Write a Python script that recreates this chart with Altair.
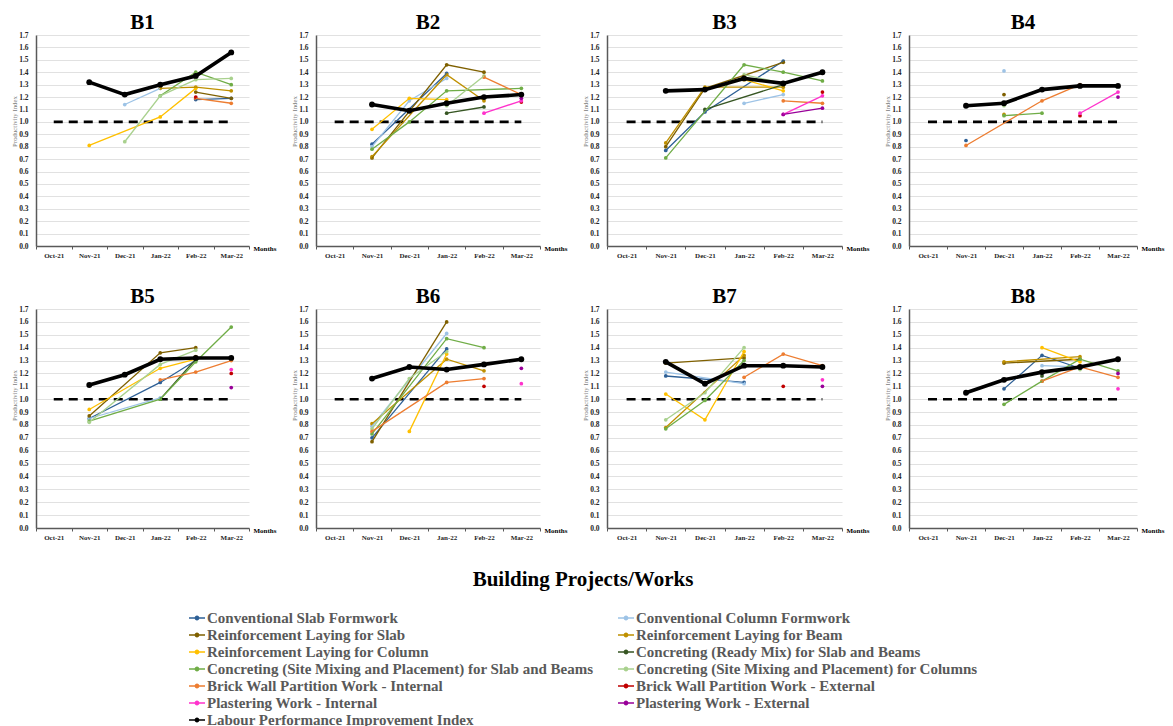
import altair as alt
import pandas as pd

SERIF = "Liberation Serif"

MONTHS = ["Oct-21", "Nov-21", "Dec-21", "Jan-22", "Feb-22", "Mar-22"]

SERIES = [
    "Conventional Slab Formwork",
    "Conventional Column Formwork",
    "Reinforcement Laying for Slab",
    "Reinforcement Laying for Beam",
    "Reinforcement Laying for Column",
    "Concreting (Ready Mix) for Slab and Beams",
    "Concreting (Site Mixing and Placement) for Slab and Beams",
    "Concreting (Site Mixing and Placement) for Columns",
    "Brick Wall Partition Work - Internal",
    "Brick Wall Partition Work - External",
    "Plastering Work - Internal",
    "Plastering Work - External",
    "Labour Performance Improvement Index",
]
COLORS = [
    "#2E6096", "#9DC3E6", "#7F6000", "#BF9000", "#FFC000", "#375623",
    "#70AD47", "#A9D18E", "#ED7D31", "#C00000", "#FF33CC", "#990099",
    "#000000",
]
LABOUR = SERIES[-1]

# the legend fills its two columns top to bottom, so list the
# entries column by column to read across in SERIES order
LEGEND_ORDER = [0, 2, 4, 6, 8, 10, 12, 1, 3, 5, 7, 9, 11]

Y_TICKS = [0.0, 0.1, 0.2, 0.3, 0.4, 0.5, 0.6, 0.7, 0.8, 0.9,
           1.0, 1.1, 1.2, 1.3, 1.4, 1.5, 1.6, 1.7]

# reference level drawn as a dashed line across the months
BASELINE_MONTHS = [0, 5]
BASELINE_VALUE = 1.0

N = None
# productivity index per month (Oct-21 .. Mar-22), keyed by position in SERIES
B1 = {
    0: [N, N, N, N, 1.18, 1.19],
    1: [N, N, 1.14, 1.27, N, N],
    2: [N, N, N, N, 1.24, 1.19],
    3: [N, N, N, 1.27, 1.28, 1.25],
    4: [N, 0.81, N, 1.04, 1.27, N],
    6: [N, N, N, 1.21, 1.40, 1.30],
    7: [N, N, 0.84, 1.21, 1.34, 1.35],
    8: [N, N, N, N, 1.19, 1.15],
    9: [N, N, N, N, 1.20, N],
    12: [N, 1.32, 1.22, 1.30, 1.37, 1.56],
}
B2 = {
    0: [N, 0.82, N, 1.39, N, N],
    1: [N, 0.80, 1.17, 1.35, N, N],
    2: [N, 0.71, N, 1.46, 1.40, N],
    3: [N, 0.72, N, 1.38, 1.17, N],
    4: [N, 0.94, 1.19, 1.18, N, N],
    5: [N, N, N, 1.07, 1.12, N],
    6: [N, 0.78, 1.00, 1.25, N, 1.27],
    7: [N, N, N, 1.13, 1.37, N],
    8: [N, N, N, N, 1.36, 1.22],
    9: [N, N, N, N, N, 1.16],
    10: [N, N, N, N, 1.07, 1.17],
    11: [N, N, N, N, N, 1.19],
    12: [N, 1.14, 1.09, 1.15, 1.20, 1.22],
}
B3 = {
    0: [N, 0.77, 1.08, N, 1.49, N],
    1: [N, N, N, 1.15, 1.22, N],
    2: [N, 0.80, 1.27, N, 1.48, N],
    3: [N, 0.83, 1.28, N, 1.28, N],
    4: [N, N, N, 1.34, 1.25, N],
    5: [N, N, 1.10, N, 1.30, N],
    6: [N, 0.71, N, 1.46, 1.40, 1.33],
    7: [N, N, N, 1.38, 1.31, N],
    8: [N, N, N, N, 1.17, 1.15],
    9: [N, N, N, N, N, 1.24],
    10: [N, N, N, N, 1.06, 1.21],
    11: [N, N, N, N, 1.06, 1.11],
    12: [N, 1.25, 1.26, 1.35, 1.31, 1.40],
}
B4 = {
    0: [N, 0.85, N, N, N, N],
    1: [N, N, 1.41, N, N, N],
    2: [N, N, 1.22, N, N, N],
    3: [N, N, 1.06, N, N, N],
    6: [N, N, 1.05, 1.07, N, N],
    7: [N, N, 1.13, N, N, N],
    8: [N, 0.81, N, 1.17, 1.30, N],
    9: [N, N, N, N, 1.05, N],
    10: [N, N, N, N, 1.07, 1.24],
    11: [N, N, N, N, N, 1.20],
    12: [N, 1.13, 1.15, 1.26, 1.29, 1.29],
}
B5 = {
    0: [N, 0.85, N, 1.13, 1.30, N],
    1: [N, 0.85, N, 1.01, N, N],
    2: [N, 0.87, N, 1.36, 1.40, N],
    3: [N, N, N, N, 1.33, N],
    4: [N, 0.92, N, 1.24, 1.31, N],
    5: [N, N, N, 1.00, 1.31, N],
    6: [N, 0.83, N, 1.00, 1.29, 1.56],
    7: [N, 0.82, N, 1.27, 1.38, N],
    8: [N, N, N, 1.15, 1.21, 1.30],
    9: [N, N, N, N, N, 1.20],
    10: [N, N, N, N, N, 1.23],
    11: [N, N, N, N, N, 1.09],
    12: [N, 1.11, 1.19, 1.31, 1.32, 1.32],
}
B6 = {
    0: [N, 0.70, N, 1.39, N, N],
    1: [N, 0.79, N, 1.51, N, N],
    2: [N, 0.67, N, 1.60, N, N],
    3: [N, 0.81, N, 1.31, 1.22, N],
    4: [N, N, 0.75, 1.35, N, N],
    6: [N, 0.73, N, 1.47, 1.40, N],
    7: [N, 0.77, 1.16, 1.37, N, N],
    8: [N, 0.75, N, 1.13, 1.16, N],
    9: [N, N, N, N, 1.10, N],
    10: [N, N, N, N, N, 1.12],
    11: [N, N, N, N, N, 1.24],
    12: [N, 1.16, 1.25, 1.23, 1.27, 1.31],
}
B7 = {
    0: [N, 1.18, N, 1.13, N, N],
    1: [N, 1.21, N, 1.12, N, N],
    2: [N, 1.28, N, 1.32, N, N],
    3: [N, 0.78, N, 1.34, N, N],
    4: [N, 1.04, 0.84, 1.37, N, N],
    6: [N, 0.77, 0.99, 1.30, N, N],
    7: [N, 0.84, 1.05, 1.40, N, N],
    8: [N, N, N, 1.17, 1.35, 1.26],
    9: [N, N, N, N, 1.10, N],
    10: [N, N, N, N, N, 1.15],
    11: [N, N, N, N, N, 1.10],
    12: [N, 1.29, 1.12, 1.26, 1.26, 1.25],
}
B8 = {
    0: [N, N, 1.08, 1.34, 1.24, N],
    1: [N, N, N, 1.26, 1.25, N],
    2: [N, N, 1.28, N, 1.31, N],
    3: [N, N, 1.29, N, 1.33, N],
    4: [N, N, N, 1.40, 1.29, N],
    5: [N, N, N, 1.18, N, N],
    6: [N, N, 0.96, 1.14, 1.31, 1.22],
    7: [N, N, N, N, 1.23, N],
    8: [N, N, N, 1.14, 1.25, 1.17],
    10: [N, N, N, N, N, 1.08],
    11: [N, N, N, N, N, 1.20],
    12: [N, 1.05, 1.15, 1.21, 1.25, 1.31],
}

PANELS = [("B1", B1), ("B2", B2), ("B3", B3), ("B4", B4),
          ("B5", B5), ("B6", B6), ("B7", B7), ("B8", B8)]
COL_WIDTHS = [213, 224, 235, 228]
ROW_HEIGHTS = [211, 219]


def frame(table):
    rows = []
    for key, vals in table.items():
        for mi, v in enumerate(vals):
            if v is not None:
                rows.append({"s": SERIES[key], "mi": mi, "v": v})
    return pd.DataFrame(rows)


baseline_df = pd.DataFrame({"mi": BASELINE_MONTHS,
                            "v": [BASELINE_VALUE] * len(BASELINE_MONTHS)})

month_expr = "[" + ",".join(f"'{m}'" for m in MONTHS) + "][datum.value]"

color_scale = alt.Scale(domain=[SERIES[i] for i in LEGEND_ORDER],
                        range=[COLORS[i] for i in LEGEND_ORDER])

# legend key: a short bar with a dot in the middle, filled with the series colour
legend = alt.Legend(
    title="Building Projects/Works",
    orient="none",
    legendX=153,
    legendY=534,
    direction="vertical",
    columns=2,
    columnPadding=24,
    rowPadding=1,
    padding=0,
    symbolType=("M-1,-0.09L1,-0.09L1,0.09L-1,0.09Z"
                "M-0.3,0A0.3,0.3,0,1,1,0.3,0A0.3,0.3,0,1,1,-0.3,0Z"),
    symbolSize=256,
    symbolStrokeWidth=0,
    symbolOpacity=1,
    labelFont=SERIF,
    labelFontSize=15,
    labelFontWeight="bold",
    labelColor="#595959",
    labelLimit=700,
    labelOffset=2,
    titleFont=SERIF,
    titleFontSize=21,
    titleFontWeight="bold",
    titleColor="#000000",
    titleAnchor="middle",
    titlePadding=20,
    titleLimit=800,
)


def make_panel(name, table, w, h):
    d = frame(table)
    x = alt.X(
        "mi:O",
        scale=alt.Scale(type="band", domain=list(range(len(MONTHS))),
                        paddingInner=0, paddingOuter=0),
        axis=alt.Axis(
            title="Months", titleX=w + 4, titleY=2, titleAlign="left",
            titleBaseline="middle", titleAngle=0, titleFont=SERIF,
            titleFontSize=7, titleFontWeight="bold", titleColor="#000000",
            labelExpr=month_expr, labelAngle=0, labelFont=SERIF,
            labelFontSize=7, labelFontWeight="bold", labelColor="#262626",
            labelPadding=2, tickBand="extent", tickSize=3,
            tickColor="#595959", domainColor="#595959", domainWidth=1.3,
            grid=False,
        ),
    )
    y = alt.Y(
        "v:Q",
        scale=alt.Scale(domain=[0, 1.7], nice=False, zero=False),
        axis=alt.Axis(
            values=Y_TICKS, format=".1f", title="Productivity Index",
            titleX=-22, titleY=86, titleAngle=270, titleAlign="center",
            titleBaseline="middle", titleFont=SERIF, titleFontSize=6.8,
            titleFontWeight="normal", titleColor="#808080",
            labelFont=SERIF, labelFontSize=7.5, labelFontWeight="bold",
            labelColor="#262626", ticks=False, labelPadding=8,
            domainColor="#595959", domainWidth=1.5,
            grid=True, gridColor="#d9d9d9", gridWidth=0.8,
        ),
    )
    line_color = alt.Color("s:N", scale=color_scale, legend=None)
    dot_color = alt.Color("s:N", scale=color_scale, legend=legend)

    dashed = alt.Chart(baseline_df).mark_line(
        color="#000000", strokeDash=[9, 6], strokeWidth=2.6
    ).encode(x=x, y=y)

    works = alt.Chart(d).transform_filter(alt.datum.s != LABOUR)
    lab = alt.Chart(d).transform_filter(alt.datum.s == LABOUR)

    work_pts = works.mark_circle(size=14, opacity=1).encode(
        x=x, y=y, color=dot_color)
    work_lines = works.mark_line(strokeWidth=1.3).encode(
        x=x, y=y, color=line_color, order="mi:Q")
    lab_line = lab.mark_line(strokeWidth=3.6).encode(
        x=x, y=y, color=line_color, order="mi:Q")
    lab_pts = lab.mark_circle(size=34, opacity=1).encode(
        x=x, y=y, color=dot_color)

    return alt.layer(dashed, work_pts, work_lines, lab_line, lab_pts).properties(
        width=w,
        height=h,
        title=alt.TitleParams(text=name, font=SERIF, fontSize=21,
                              fontWeight="bold", color="#000000",
                              anchor="middle", offset=-2),
    )


panels = []
for i, (name, table) in enumerate(PANELS):
    panels.append(make_panel(name, table, COL_WIDTHS[i % 4], ROW_HEIGHTS[i // 4]))

chart = (
    alt.concat(*panels, columns=4, spacing={"row": 63, "column": 67},
               bounds="flush")
    .resolve_scale(color="shared")
    .properties(padding={"left": 11, "top": 12, "right": 5, "bottom": 0},
                background="#ffffff")
    .configure_view(stroke=None)
)

chart.save("out.html", embed_options={"renderer": "svg", "actions": False})
